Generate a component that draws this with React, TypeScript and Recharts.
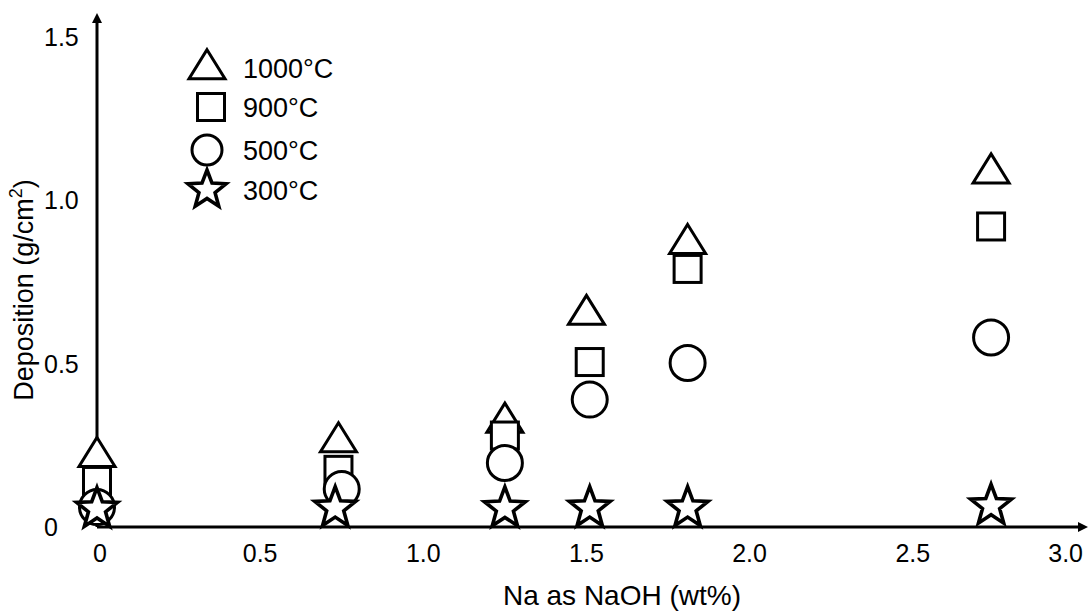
import React from "react";
import { ScatterChart, Scatter, XAxis, YAxis, Legend } from "recharts";

// tick labels
const xTicks = [0, 0.5, 1.0, 1.5, 2.0, 2.5, 3.0];
const yTicks = [0, 0.5, 1.0, 1.5];

// Na as NaOH (wt%) for each series
const na1000 = [0, 0.74, 1.25, 1.5, 1.81, 2.74];
const na900 = [0, 0.74, 1.25, 1.51, 1.81, 2.74];
const na500 = [0, 0.75, 1.25, 1.51, 1.81, 2.74];
const na300 = [0, 0.73, 1.25, 1.51, 1.81, 2.74];

// deposition (g/cm2)
const dep1000 = [0.215, 0.26, 0.32, 0.65, 0.867, 1.083];
const dep900 = [0.141, 0.175, 0.28, 0.505, 0.79, 0.92];
const dep500 = [0.061, 0.116, 0.196, 0.39, 0.502, 0.58];
const dep300 = [0.055, 0.058, 0.057, 0.058, 0.058, 0.065];

type Kind = "triangle" | "square" | "circle" | "star";

const toPoints = (xs: number[], ys: number[]) => xs.map((x, i) => ({ x, y: ys[i] }));

const series: { name: string; kind: Kind; data: { x: number; y: number }[] }[] = [
  { name: "1000°C", kind: "triangle", data: toPoints(na1000, dep1000) },
  { name: "900°C", kind: "square", data: toPoints(na900, dep900) },
  { name: "500°C", kind: "circle", data: toPoints(na500, dep500) },
  { name: "300°C", kind: "star", data: toPoints(na300, dep300) },
];

const FONT = "'Liberation Sans', Arial, Helvetica, sans-serif";

function starPath(cx: number, cy: number, R: number, r: number) {
  let d = "";
  for (let i = 0; i < 10; i++) {
    const a = ((-90 + i * 36) * Math.PI) / 180;
    const rad = i % 2 === 0 ? R : r;
    d += (i === 0 ? "M" : "L") + (cx + rad * Math.cos(a)).toFixed(2) + "," + (cy + rad * Math.sin(a)).toFixed(2);
  }
  return d + "Z";
}

function Marker({ kind, cx, cy, small }: { kind: Kind; cx: number; cy: number; small?: boolean }) {
  const common = { fill: "#fff", stroke: "#000", strokeWidth: 3 };
  if (kind === "triangle") {
    const h = 29;
    const w = 18;
    return (
      <path
        d={`M${cx},${cy - (2 * h) / 3}L${cx + w},${cy + h / 3}L${cx - w},${cy + h / 3}Z`}
        {...common}
      />
    );
  }
  if (kind === "square") {
    const s = 27;
    return <rect x={cx - s / 2} y={cy - s / 2} width={s} height={s} {...common} />;
  }
  if (kind === "circle") {
    return <circle cx={cx} cy={cy} r={small ? 15 : 17.5} {...common} />;
  }
  return <path d={starPath(cx, cy, small ? 20 : 21.5, small ? 8.5 : 9)} {...common} strokeWidth={3.6} />;
}

const fmt = (v: number) => (v === 0 ? "0" : v.toFixed(1));

const XTick = (props: any) => {
  const { x, y, payload, index } = props;
  const last = index === xTicks.length - 1;
  return (
    <text
      x={last ? 1083 : payload.value === 0 ? x + 3 : x}
      y={y + 35}
      textAnchor={last ? "end" : "middle"}
      fontSize={25}
      fontFamily={FONT}
      fill="#000"
    >
      {fmt(payload.value)}
    </text>
  );
};

const YTick = (props: any) => {
  const { y, payload } = props;
  return (
    <text x={44} y={y} dy="0.36em" textAnchor="start" fontSize={25} fontFamily={FONT} fill="#000">
      {fmt(payload.value)}
    </text>
  );
};

const legendRows = [68, 107, 150, 190];

const LegendContent = () => (
  <svg width={180} height={180} style={{ display: "block", overflow: "visible" }}>
    {series.map((s, i) => (
      <g key={s.name}>
        <Marker kind={s.kind} cx={i === 1 ? 31 : 27} cy={legendRows[i] - 40 + (i === 0 ? 1 : 0)} small />
        <text x={63} y={legendRows[i] - 40} dy="0.36em" fontSize={27} fontFamily={FONT} fill="#000">
          {s.name}
        </text>
      </g>
    ))}
  </svg>
);

const App: React.FC = () => {
  return (
    <div style={{ position: "absolute", left: 0, top: 0, width: 1089, height: 612, background: "#fff" }}>
      <svg width={0} height={0} style={{ position: "absolute" }}>
        <defs>
          <marker
            id="axisArrow"
            viewBox="0 0 10 10"
            refX={2}
            refY={5}
            markerWidth={10}
            markerHeight={10}
            markerUnits="userSpaceOnUse"
            orient="auto-start-reverse"
          >
            <path d="M0,0 L10,5 L0,10 z" fill="#000" />
          </marker>
        </defs>
      </svg>
      <ScatterChart width={1089} height={612} margin={{ top: 21, right: 9, bottom: 55, left: 0 }}>
        <XAxis
          type="number"
          dataKey="x"
          height={30}
          domain={[0, 3.0125]}
          ticks={xTicks}
          interval={0}
          tickSize={0}
          tickMargin={0}
          tick={<XTick />}
          axisLine={{ stroke: "#000", strokeWidth: 3, markerEnd: "url(#axisArrow)" }}
          tickLine={false}
        />
        <YAxis
          type="number"
          dataKey="y"
          width={97}
          domain={[0, 1.549]}
          ticks={yTicks}
          interval={0}
          tickSize={0}
          tick={<YTick />}
          axisLine={{ stroke: "#000", strokeWidth: 3, markerStart: "url(#axisArrow)" }}
          tickLine={false}
        />
        <Legend
          layout="vertical"
          align="center"
          verticalAlign="middle"
          content={<LegendContent />}
          wrapperStyle={{ left: 180, top: 40, width: 180, height: 180 }}
        />
        {series.map((s) => (
          <Scatter
            key={s.name}
            name={s.name}
            data={s.data}
            isAnimationActive={false}
            shape={(p: any) => <Marker kind={s.kind} cx={p.cx} cy={p.cy} />}
          />
        ))}
      </ScatterChart>
      <svg width={1089} height={612} style={{ position: "absolute", left: 0, top: 0, pointerEvents: "none" }}>
        <text x={33} y={290} transform="rotate(-90 33 290)" textAnchor="middle" fontSize={27} fontFamily={FONT} fill="#000">
          Deposition (g/cm
          <tspan dy={-11} fontSize={18}>2</tspan>
          <tspan dy={11}>)</tspan>
        </text>
        <text x={622} y={605} textAnchor="middle" fontSize={28} fontFamily={FONT} fill="#000">
          Na as NaOH (wt%)
        </text>
      </svg>
    </div>
  );
};

export default App;
